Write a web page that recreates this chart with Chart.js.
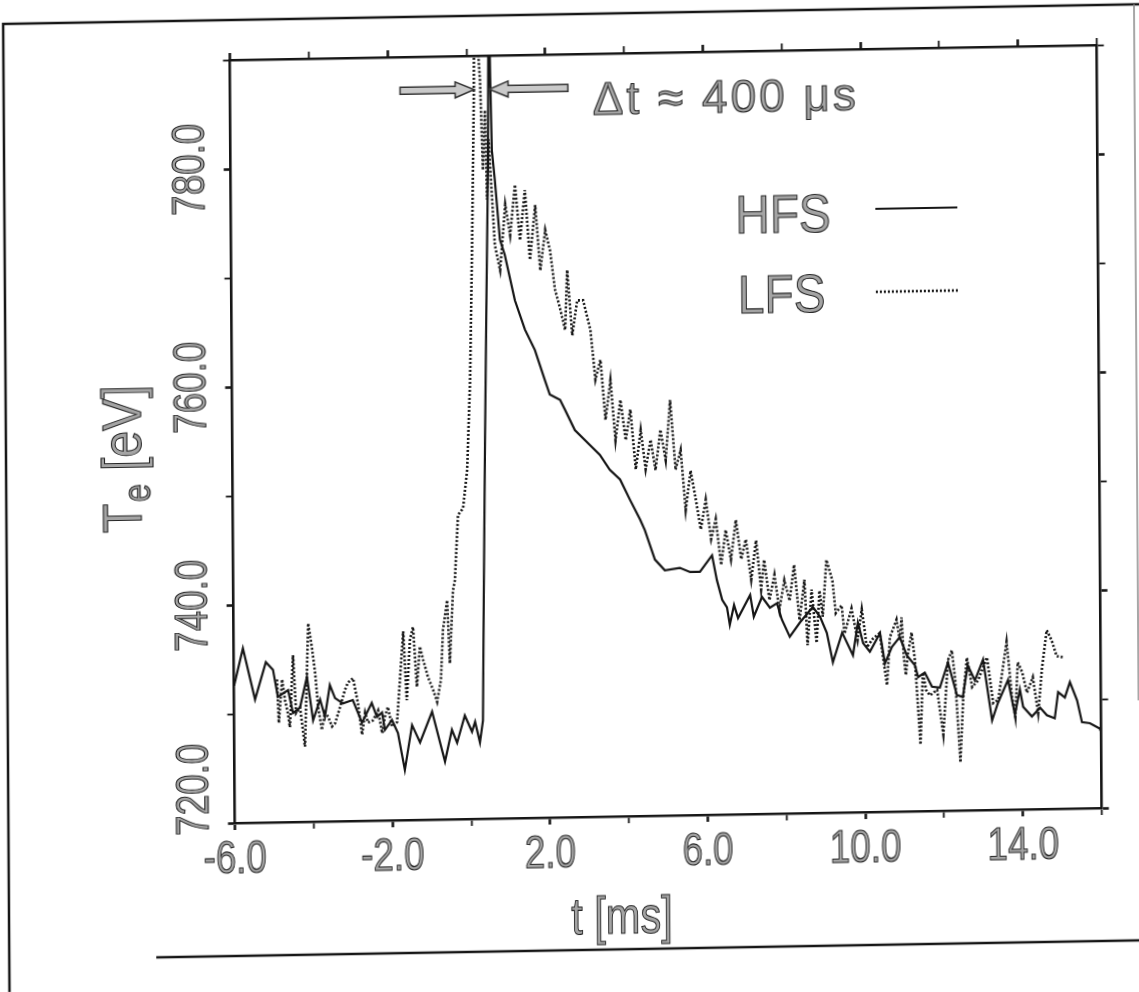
<!DOCTYPE html>
<html><head><meta charset="utf-8">
<script src="https://cdn.jsdelivr.net/npm/chart.js@4.4.1/dist/chart.umd.min.js"></script>
<style>
html,body{margin:0;padding:0;background:#fff;overflow:hidden;width:1139px;height:992px;}
#wrap{position:absolute;left:0;top:0;width:1139px;height:992px;transform-origin:0 0;transform:matrix(1,-0.01732,0.00655,1,0,0);}
canvas{display:block;}
</style></head><body>
<div id="wrap"><canvas id="c" width="1139" height="992"></canvas></div>
<script>
// ---- data (t in ms, Te in eV) ----
const hfsTime = [-6.00,-5.77,-5.47,-5.19,-5.01,-4.89,-4.63,-4.51,-4.33,-4.15,-4.00,-3.82,-3.70,-3.57,-3.44,-3.24,-2.99,-2.76,-2.51,-2.38,-2.25,-2.18,-2.00,-1.85,-1.68,-1.49,-1.29,-0.98,-0.66,-0.48,-0.35,-0.15,0.03,0.11,0.23,0.31,0.35,0.41,0.47,0.53,0.57,0.60,0.63,0.70,0.82,0.94,1.19,1.44,1.69,1.94,2.06,2.32,2.44,2.69,3.07,3.32,3.57,3.83,4.08,4.33,4.45,4.70,4.95,5.33,5.59,5.84,6.15,6.27,6.40,6.52,6.59,6.70,6.80,7.11,7.20,7.41,7.61,7.79,7.91,8.11,8.37,8.58,8.70,8.88,9.05,9.20,9.44,9.71,9.84,9.97,10.14,10.40,10.52,10.70,10.90,11.08,11.28,11.36,11.53,11.71,11.91,12.12,12.34,12.49,12.62,12.80,13.01,13.23,13.38,13.64,13.81,13.94,14.02,14.24,14.45,14.62,14.82,14.91,15.08,15.21,15.39,15.51,15.71,15.96,16.00];
const hfsTe = [732.6,736.0,731.3,734.7,734.0,731.5,732.1,730.0,730.5,733.3,729.3,731.2,729.6,732.5,731.3,730.8,731.1,729.0,730.8,729.5,729.9,728.3,729.2,728.0,724.6,728.7,727.1,729.9,725.3,728.2,727.0,729.5,728.0,728.9,727.0,729.0,740.0,755.0,768.0,780.0,797.0,788.0,781.3,778.6,773.1,771.7,767.5,764.8,762.9,760.1,758.8,758.3,757.4,755.5,754.1,753.2,751.8,750.9,749.0,747.2,746.2,743.5,742.5,742.7,742.3,742.3,743.8,741.5,739.7,739.0,737.4,739.2,738.0,740.1,738.1,739.9,738.9,739.3,737.8,736.2,737.5,738.4,738.9,738.0,736.5,733.8,736.5,734.4,737.4,735.5,734.7,736.4,733.6,735.1,736.0,734.3,733.4,732.3,732.7,731.4,731.3,733.6,730.6,730.4,733.3,731.9,733.8,728.2,729.8,731.9,728.7,731.0,729.4,728.5,729.3,728.6,728.3,730.7,730.2,731.6,729.9,727.9,727.8,727.3,726.9];
const lfsTime = [-4.91,-4.87,-4.78,-4.71,-4.64,-4.59,-4.50,-4.43,-4.33,-4.21,-4.11,-4.02,-3.94,-3.87,-3.78,-3.70,-3.62,-3.52,-3.44,-3.32,-3.19,-3.11,-2.98,-2.86,-2.76,-2.68,-2.61,-2.48,-2.35,-2.25,-2.18,-2.10,-2.00,-1.87,-1.79,-1.70,-1.62,-1.53,-1.45,-1.36,-1.28,-1.20,-1.08,-0.95,-0.85,-0.75,-0.69,-0.58,-0.52,-0.43,-0.38,-0.29,-0.16,-0.05,0.04,0.11,0.18,0.21,0.27,0.34,0.40,0.46,0.50,0.55,0.69,0.82,0.96,1.08,1.21,1.33,1.46,1.58,1.72,1.84,1.97,2.09,2.21,2.34,2.46,2.52,2.64,2.77,2.92,3.10,3.22,3.35,3.47,3.60,3.72,3.85,3.98,4.10,4.23,4.36,4.48,4.61,4.73,4.86,4.99,5.11,5.24,5.37,5.49,5.62,5.75,5.87,6.00,6.13,6.25,6.38,6.50,6.63,6.76,6.89,7.01,7.14,7.27,7.39,7.47,7.60,7.73,7.85,7.98,8.11,8.23,8.36,8.49,8.56,8.67,8.79,8.87,8.95,9.05,9.20,9.28,9.43,9.50,9.68,9.83,9.94,10.01,10.06,10.22,10.39,10.57,10.65,10.82,10.90,10.95,11.00,11.05,11.10,11.20,11.28,11.41,11.48,11.56,11.66,11.84,11.99,12.12,12.22,12.30,12.42,12.50,12.60,12.73,12.88,13.11,13.26,13.39,13.61,13.74,13.82,13.89,14.00,14.12,14.27,14.40,14.45,14.50,14.63,14.75,14.88,15.04];
const lfsTe = [733.1,729.1,733.1,731.2,730.0,728.7,735.3,730.0,730.5,726.9,738.2,736.0,733.6,730.5,728.4,730.0,729.6,728.7,729.0,730.4,732.0,732.7,733.1,730.8,727.9,729.9,729.0,729.2,730.1,728.0,729.5,730.4,728.6,729.0,732.9,737.3,731.0,736.5,737.7,732.2,735.9,734.7,733.1,731.9,730.8,732.8,737.4,740.1,734.3,741.0,741.9,747.9,748.5,752.0,760.3,772.2,786.0,797.0,792.0,787.8,779.5,785.0,776.8,782.3,772.6,770.3,776.3,773.5,778.1,773.0,777.6,771.2,776.2,770.2,773.9,772.0,768.4,766.6,764.7,770.2,764.2,767.4,767.4,764.7,760.1,761.9,756.4,760.0,754.5,758.2,754.5,757.3,751.8,755.4,751.8,754.5,751.7,755.4,752.6,758.1,751.7,753.5,748.0,751.6,748.9,746.2,748.9,745.3,747.1,742.9,746.1,743.4,747.0,743.4,745.2,741.5,745.1,740.6,743.3,739.6,741.9,738.7,741.4,739.5,742.8,737.7,741.4,735.4,740.5,735.6,740.4,738.0,743.2,741.3,738.3,739.0,736.4,738.7,735.8,738.6,736.7,735.1,735.9,736.4,731.6,736.0,737.6,735.7,737.8,734.2,732.5,734.3,736.4,733.9,726.1,732.7,731.1,730.6,731.1,727.0,733.8,734.7,732.0,724.4,730.3,734.0,731.3,731.9,734.0,729.8,730.1,735.4,730.3,728.5,733.5,732.6,730.7,732.1,728.8,730.7,732.8,736.4,735.5,734.0,733.9];
const seriesNames = ['HFS','LFS'];
const xMin = -6, xMax = 16, yMin = 720, yMax = 790;
const xTickValues = [-6,-4,-2,0,2,4,6,8,10,12,14,16];
const xLabelValues = [-6,-2,2,6,10,14];
const xTickLabels = ['-6.0','-2.0','2.0','6.0','10.0','14.0'];
const yTickValues = [720,730,740,750,760,770,780,790];
const yLabelValues = [720,740,760,780];
const yTickLabels = ['720.0','740.0','760.0','780.0'];
const xTitle = 't [ms]';
const yTitleParts = ['T','e',' [eV]'];
const annotationText = 'Δt ≈ 400 μs';
const arrowTips = [0.19, 0.57];
const arrowTails = [-1.69, 2.57];
const arrowLevel = 786.9;

// ---- styles ----
const INK = '#161616';
const FONT = '"Liberation Sans", Arial, sans-serif';

function txt(ctx, s, x, y, o) {
  ctx.save();
  ctx.translate(x, y);
  if (o.rot) ctx.rotate(-Math.PI / 2);
  ctx.scale(o.sx || 1, 1);
  ctx.font = o.size + 'px ' + FONT;
  ctx.textAlign = o.align || 'center';
  ctx.textBaseline = o.base || 'alphabetic';
  if (o.ls) ctx.letterSpacing = o.ls;
  ctx.fillStyle = '#a4a4a4';
  ctx.fillText(s, 0, 0);
  ctx.lineWidth = 1.1;
  ctx.strokeStyle = '#262626';
  ctx.strokeText(s, 0, 0);
  ctx.restore();
}
function measure(ctx, s, size, sx) {
  ctx.save(); ctx.font = size + 'px ' + FONT;
  const w = ctx.measureText(s).width * (sx || 1);
  ctx.restore(); return w;
}

const decor = {
  id: 'decor',
  beforeDraw(chart) {
    const ctx = chart.ctx;
    ctx.save(); ctx.fillStyle = '#fff'; ctx.fillRect(0, 0, chart.width, chart.height); ctx.restore();
  },
  afterDraw(chart) {
    const ctx = chart.ctx;
    const xs = chart.scales.x, ys = chart.scales.y;
    // outer frame of the figure
    ctx.save();
    ctx.strokeStyle = INK; ctx.lineWidth = 2.5;
    ctx.beginPath(); ctx.moveTo(3, 992); ctx.lineTo(3, 24); ctx.lineTo(1139, 24); ctx.stroke();
    ctx.beginPath(); ctx.moveTo(150, 960); ctx.lineTo(1139, 960); ctx.stroke();
    ctx.strokeStyle = '#8a8a8a'; ctx.lineWidth = 1.5;
    ctx.beginPath(); ctx.moveTo(1134, 24); ctx.lineTo(1134, 720); ctx.stroke();
    ctx.restore();

    // tick labels
    xLabelValues.forEach((v, i) => {
      txt(ctx, xTickLabels[i], xs.getPixelForValue(v), 877, {size: 46, sx: 0.8});
    });
    yLabelValues.forEach((v, i) => {
      const shift = (v === yMin) ? -34 : 0;
      txt(ctx, yTickLabels[i], 190, ys.getPixelForValue(v) + shift, {size: 46, sx: 0.8, rot: true, base: 'middle'});
    });

    // axis titles
    txt(ctx, xTitle, 616, 944, {size: 52, sx: 0.8});
    let yPos = 535;
    const bx = 138;
    const w0 = measure(ctx, yTitleParts[0], 56, 0.86);
    txt(ctx, yTitleParts[0], bx, yPos, {size: 56, sx: 0.86, rot: true, align: 'left'});
    yPos -= w0 + 1;
    const w1 = measure(ctx, yTitleParts[1], 38, 0.86);
    txt(ctx, yTitleParts[1], bx + 9, yPos, {size: 38, sx: 0.86, rot: true, align: 'left'});
    yPos -= w1;
    txt(ctx, yTitleParts[2], bx, yPos, {size: 56, sx: 0.86, rot: true, align: 'left'});

    // legend
    txt(ctx, seriesNames[0], 734, 246, {size: 53, sx: 0.9, align: 'left'});
    txt(ctx, seriesNames[1], 736, 326, {size: 53, sx: 0.9, align: 'left'});
    ctx.save();
    ctx.strokeStyle = INK;
    ctx.lineWidth = 2.2;
    ctx.beginPath(); ctx.moveTo(874, 224); ctx.lineTo(956, 224); ctx.stroke();
    ctx.lineWidth = 2.6; ctx.setLineDash([2, 2]);
    ctx.beginPath(); ctx.moveTo(874, 307); ctx.lineTo(956, 307); ctx.stroke();
    ctx.restore();

    // delta-t annotation with arrows
    txt(ctx, annotationText, 592, 125, {size: 46, align: 'left', ls: '3px'});
    const ay = ys.getPixelForValue(arrowLevel);
    ctx.save();
    ctx.fillStyle = '#c9c9c9'; ctx.strokeStyle = '#333'; ctx.lineWidth = 1.5;
    for (let i = 0; i < arrowTips.length; i++) {
      const tip = xs.getPixelForValue(arrowTips[i]);
      const tail = xs.getPixelForValue(arrowTails[i]);
      const d = Math.sign(tip - tail);
      const hx = tip - d * 19;
      ctx.beginPath();
      ctx.moveTo(tail, ay - 3.5); ctx.lineTo(hx, ay - 3.5); ctx.lineTo(hx, ay - 8);
      ctx.lineTo(tip, ay); ctx.lineTo(hx, ay + 8); ctx.lineTo(hx, ay + 3.5);
      ctx.lineTo(tail, ay + 3.5); ctx.closePath();
      ctx.fill(); ctx.stroke();
    }
    ctx.restore();
  }
};

function axisCfg(pos, axis, min, max, tickVals, labelVals) {
  return {
    type: 'linear', position: pos, axis: axis, min: min, max: max, display: true,
    afterBuildTicks: s => { s.ticks = tickVals.map(v => ({value: v})); },
    afterFit: s => { if (s.isHorizontal()) s.height = 8; else s.width = 8; },
    ticks: {display: false},
    grid: {display: true, drawOnChartArea: false, drawTicks: true, tickLength: 7, tickColor: INK,
      tickWidth: c => (c.tick && labelVals.includes(c.tick.value)) ? 2.6 : 1.8},
    border: {display: true, color: INK, width: 2.6}
  };
}

const toXY = (ts, vs) => ts.map((t, i) => ({x: t, y: vs[i]}));

new Chart(document.getElementById('c'), {
  type: 'line',
  data: {
    datasets: [
      {label: seriesNames[0], data: toXY(hfsTime, hfsTe), borderColor: INK, borderWidth: 2.2,
        pointRadius: 0, tension: 0, fill: false},
      {label: seriesNames[1], data: toXY(lfsTime, lfsTe), borderColor: INK, borderWidth: 2.6,
        borderDash: [2, 2], pointRadius: 0, tension: 0, fill: false}
    ]
  },
  options: {
    responsive: false, animation: false, events: [],
    layout: {padding: {left: 221.6, top: 56, right: 34.4, bottom: 157}},
    plugins: {legend: {display: false}, tooltip: {enabled: false}},
    scales: {
      x: axisCfg('bottom', 'x', xMin, xMax, xTickValues, xLabelValues),
      y: axisCfg('left', 'y', yMin, yMax, yTickValues, yLabelValues),
      x2: axisCfg('top', 'x', xMin, xMax, xTickValues, xLabelValues),
      y2: axisCfg('right', 'y', yMin, yMax, yTickValues, yLabelValues)
    }
  },
  plugins: [decor]
});
</script>
</body></html>
